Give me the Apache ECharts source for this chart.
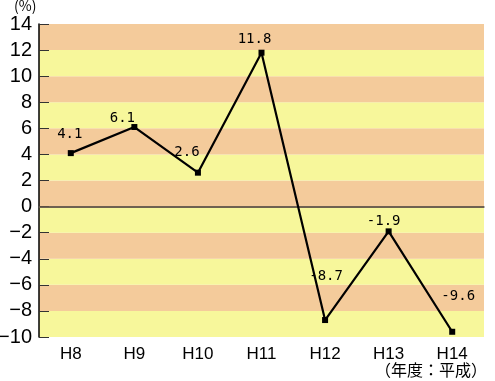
<!DOCTYPE html>
<html><head><meta charset="utf-8">
<script src="https://cdn.jsdelivr.net/npm/echarts@6/dist/echarts.min.js"></script>
<style>html,body{margin:0;padding:0;background:#fff}#c{width:495px;height:381px}</style>
</head><body><div id="c"></div>
<script>
const categories = ['H8','H9','H10','H11','H12','H13','H14'];
const values = [4.1, 6.1, 2.6, 11.8, -8.7, -1.9, -9.6];
const labelOffsets = [[-1,-19],[-12,-9],[-11,-20],[-7,-13],[1,-44],[-5,-10],[6,-35]];
const yMin = -10, yMax = 14, yStep = 2;

const narrow = '"Liberation Sans Narrow","Arial Narrow","Liberation Sans",sans-serif';
const chart = echarts.init(document.getElementById('c'));
chart.setOption({
  animation: false,
  grid: { left: 39, top: 24, right: 11, bottom: 44, containLabel: false, outerBoundsMode: 'none' },
  xAxis: {
    type: 'category', data: categories, boundaryGap: true,
    axisLine: { lineStyle: { color: '#555', width: 1.5 } },
    axisTick: { inside: true, alignWithLabel: true, length: 7, lineStyle: { color: '#444' } },
    axisLabel: { color: '#000', fontFamily: narrow, fontSize: 17, margin: 9 }
  },
  yAxis: {
    type: 'value', min: yMin, max: yMax, interval: yStep,
    axisLine: { show: true, lineStyle: { color: '#000', width: 1.5 } },
    axisTick: { show: true, inside: true, length: 10, lineStyle: { color: '#333' } },
    axisLabel: { color: '#000', fontFamily: narrow, fontSize: 20, margin: 7,
      formatter: v => String(v).replace('-', '\u2212') },
    splitLine: { show: false },
    splitArea: { show: true, areaStyle: { color: ['#F7F79B', '#F4CB9B'] } }
  },
  series: [{
    type: 'line',
    data: values.map((v, i) => ({
      value: v,
      label: { offset: labelOffsets[i] }
    })),
    symbol: 'rect', symbolSize: 6,
    itemStyle: { color: '#000' },
    lineStyle: { color: '#000', width: 2.2 },
    label: {
      show: true, position: 'inside', color: '#000',
      fontFamily: '"DejaVu Sans Mono","Liberation Mono",monospace', fontSize: 14,
      formatter: p => String(p.value)
    },
    markLine: {
      silent: true, symbol: 'none', label: { show: false },
      lineStyle: { color: '#6b5a48', width: 1.5, type: 'solid' },
      data: [{ yAxis: 0 }]
    },
    z: 5
  }],
  graphic: [
    { type: 'text', left: 14, top: -1, style: { text: '(%)', fontSize: 14, fill: '#000', fontFamily: '"Noto Sans CJK JP",sans-serif' } },
    { type: 'text', right: 8, top: 362, style: { text: '（年度：平成）', fontSize: 16, fill: '#000', fontFamily: '"Noto Sans CJK JP",sans-serif' } }
  ]
});
</script></body></html>
